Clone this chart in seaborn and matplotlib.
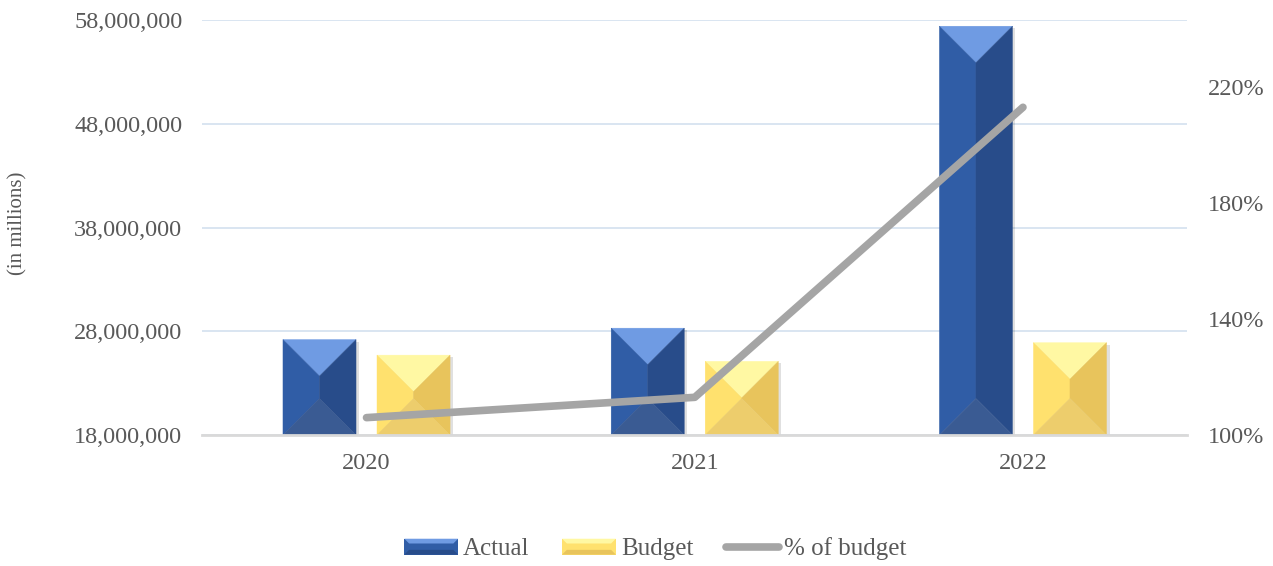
import numpy as np
import pandas as pd
import matplotlib
matplotlib.use("Agg")
import matplotlib.pyplot as plt
import seaborn as sns
from matplotlib.patches import Polygon, Rectangle
from matplotlib.lines import Line2D
from matplotlib.legend_handler import HandlerBase
from matplotlib.ticker import FuncFormatter, FixedLocator

# data
years = ["2020", "2021", "2022"]
actual = [27_200_000, 28_300_000, 57_400_000]
budget = [25_700_000, 25_100_000, 26_900_000]
pct_of_budget = [106, 113, 213]

series_names = ["Actual", "Budget", "% of budget"]
left_ticks = [18_000_000, 28_000_000, 38_000_000, 48_000_000, 58_000_000]
right_ticks = [100, 140, 180, 220]

TXT = "#595959"
# bevel shades: top, left, right, bottom
blue_shades = ["#6F9BE3", "#305DA6", "#284C8A", "#3A5B93"]
gold_shades = ["#FFF8A3", "#FFE16E", "#E8C45C", "#EDCD6C"]
LINE_C = "#A5A5A5"
FS = 17.5

df = pd.DataFrame({
    "year": years * 2,
    "series": [series_names[0]] * 3 + [series_names[1]] * 3,
    "value": actual + budget,
})
pct_df = pd.DataFrame({"year": years, "pct": pct_of_budget})

sns.set_theme(style="white")
plt.rcParams["font.family"] = ["Liberation Serif", "DejaVu Serif"]

fig = plt.figure(figsize=(12.73, 5.66), dpi=100)
ax = fig.add_axes([0.159, 0.2314, 0.7735, 0.7333])

sns.barplot(data=df, x="year", y="value", hue="series",
            palette=[blue_shades[1], gold_shades[1]], width=0.573, gap=0.223,
            legend=False, ax=ax, zorder=2)
ax.set_ylim(left_ticks[0], left_ticks[-1])
ax.set_xlim(-0.5, len(years) - 0.5)
ax.yaxis.set_major_locator(FixedLocator(left_ticks))
ax.yaxis.set_major_formatter(FuncFormatter(lambda v, p: f"{v:,.0f}"))
ax.grid(axis="y", color="#D7E3F0", lw=1.3, zorder=0)
ax.set_axisbelow(True)
for s in ["top", "right", "left"]:
    ax.spines[s].set_visible(False)
ax.spines["bottom"].set_color("#D9D9D9")
ax.spines["bottom"].set_linewidth(2)
ax.spines["bottom"].set_zorder(5)
ax.tick_params(axis="y", length=0, pad=14.4, labelsize=FS, labelcolor=TXT)
ax.tick_params(axis="x", length=0, pad=13, labelsize=FS, labelcolor=TXT)
ax.set_xlabel("")
ax.set_ylabel("(in millions)", fontsize=15, color=TXT)
ax.yaxis.set_label_coords(-0.178, 0.511)

# pyramid bevel on each bar, computed from the bar patches in pixel space
fig.canvas.draw()
inv = ax.transData.inverted()
ybot = ax.get_ylim()[0]
bars = [p for p in ax.patches if isinstance(p, Rectangle)]
for i, p in enumerate(bars):
    shades = blue_shades if i < len(years) else gold_shades
    x0, w, top = p.get_x(), p.get_width(), p.get_y() + p.get_height()
    (L, B), (R, T) = ax.transData.transform([(x0, ybot), (x0 + w, top)])
    C = (L + R) / 2
    hw = (R - L) / 2
    mid = (T + B) / 2
    at = max(T - hw, mid)
    ab = min(B + hw, mid)
    shapes = [
        [(L, T), (R, T), (C, at)],
        [(L, T), (C, at), (C, ab), (L, B)],
        [(R, T), (C, at), (C, ab), (R, B)],
        [(L, B), (R, B), (C, ab)],
    ]
    # soft shadow
    sh = inv.transform([(L + 2, B - 3), (R + 3, B - 3), (R + 3, T - 2), (L + 2, T - 2)])
    ax.add_patch(Polygon(sh, closed=True, fc="#000000", alpha=0.12, lw=0, zorder=1.5))
    for pts, c in zip(shapes, shades):
        ax.add_patch(Polygon(inv.transform(pts), closed=True, fc=c, ec=c,
                             lw=0.3, zorder=3))
    p.set_visible(False)

# % of budget line on the secondary axis
ax2 = ax.twinx()
sns.pointplot(data=pct_df, x="year", y="pct", ax=ax2, color=LINE_C,
              markers="", errorbar=None, lw=5.5, solid_capstyle="round",
              solid_joinstyle="round", zorder=6)
ax2.set_xlim(-0.5, len(years) - 0.5)
ax2.set_ylim(100, 243.1)
ax2.yaxis.set_major_locator(FixedLocator(right_ticks))
ax2.yaxis.set_major_formatter(FuncFormatter(lambda v, p: f"{v:.0f}%"))
ax2.tick_params(axis="y", length=0, pad=15, labelsize=FS, labelcolor=TXT)
ax2.set_ylabel("")
ax2.set_xlabel("")
ax2.grid(False)
for s in ax2.spines.values():
    s.set_visible(False)


class BevelHandler(HandlerBase):
    def __init__(self, shades):
        super().__init__()
        self.shades = shades

    def create_artists(self, legend, orig_handle, xdescent, ydescent,
                       width, height, fontsize, trans):
        x0, y0 = -xdescent, -ydescent
        x1, y1 = x0 + width, y0 + height
        d = height * 0.3
        top, mid, bottom = self.shades
        out = [
            Rectangle((x0, y0), width, height, fc=mid, lw=0),
            Polygon([(x0, y1), (x1, y1), (x1 - d, y1 - d), (x0 + d, y1 - d)], fc=top, lw=0),
            Polygon([(x0, y0), (x1, y0), (x1 - d, y0 + d), (x0 + d, y0 + d)], fc=bottom, lw=0),
        ]
        for a in out:
            a.set_transform(trans)
        return out


h_act = Rectangle((0, 0), 1, 1)
h_bud = Rectangle((0, 0), 1, 1)
h_line = Line2D([], [], color=LINE_C, lw=5.5, solid_capstyle="round")
fig.legend([h_act, h_bud, h_line], series_names, loc="lower center",
           bbox_to_anchor=(0.515, -0.03), ncol=3, frameon=False, fontsize=18,
           labelcolor=TXT, handlelength=2.15, handleheight=0.6,
           handletextpad=0.2, columnspacing=1.3,
           handler_map={h_act: BevelHandler([blue_shades[0], blue_shades[1], blue_shades[2]]),
                        h_bud: BevelHandler([gold_shades[0], gold_shades[1], gold_shades[2]])})

fig.savefig("out.png", dpi=100)
